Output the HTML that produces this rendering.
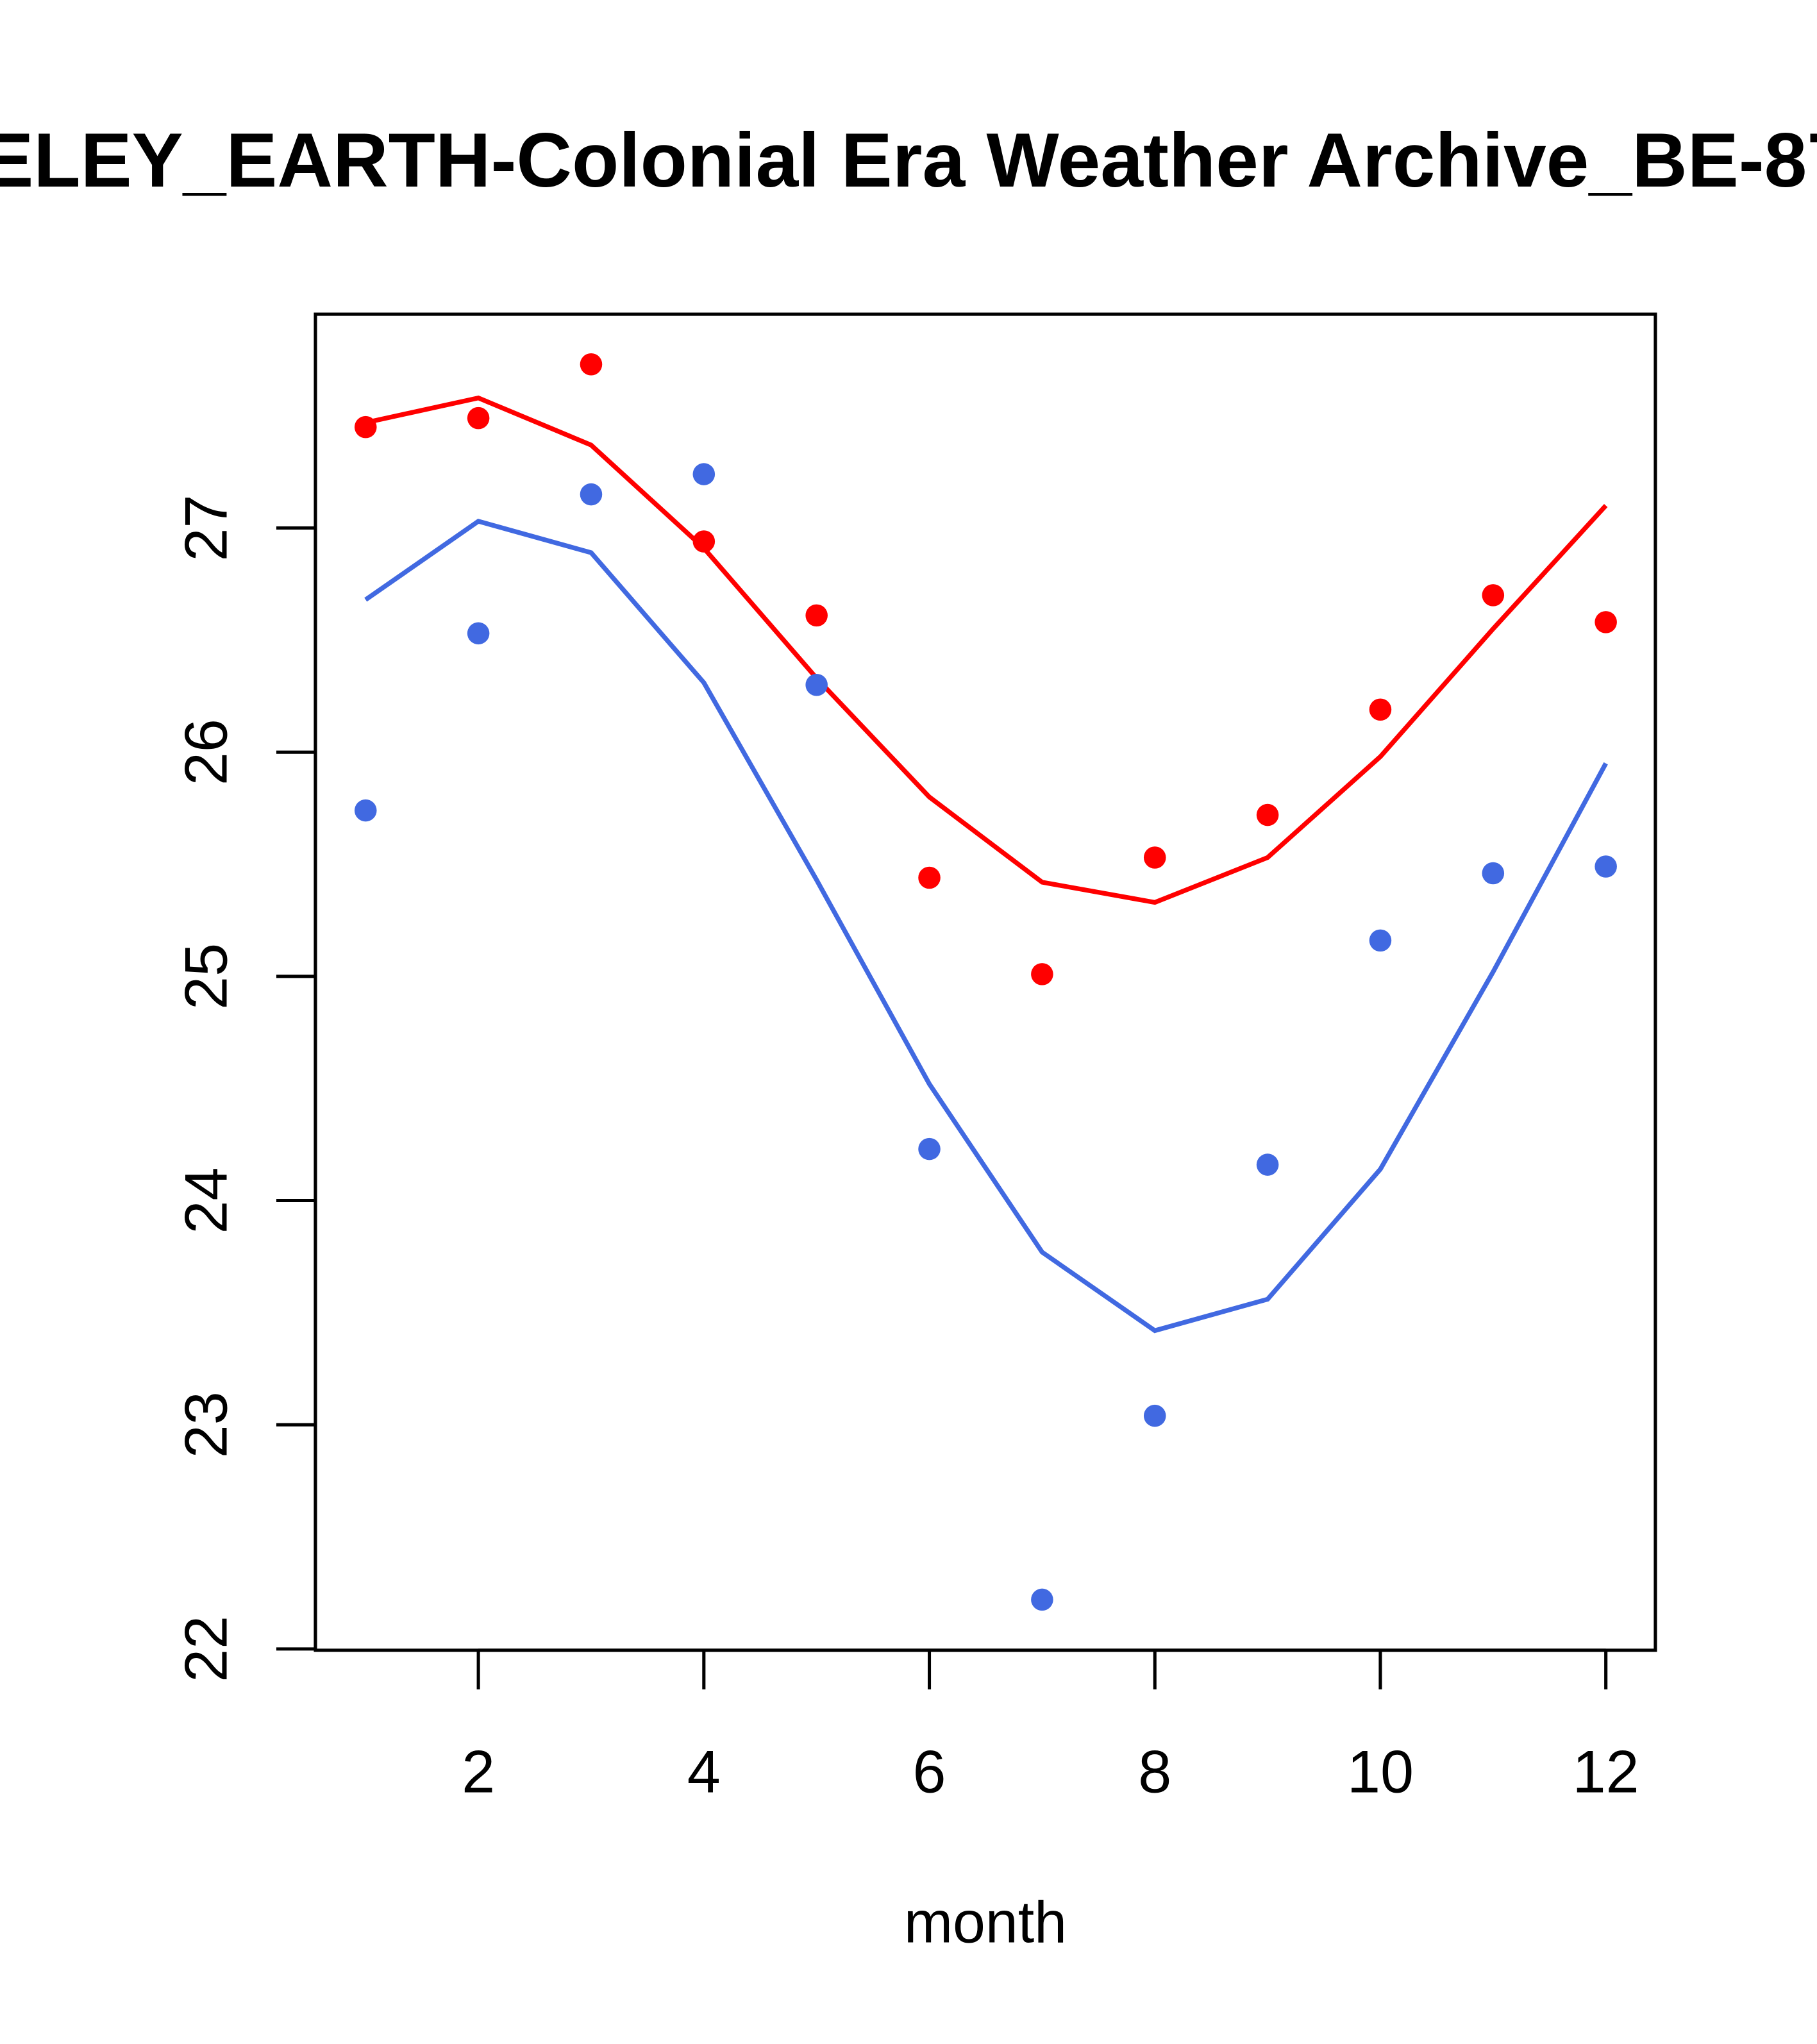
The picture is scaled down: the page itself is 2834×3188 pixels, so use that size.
<!DOCTYPE html>
<html><head><meta charset="utf-8"><style>html,body{margin:0;padding:0;background:#fff;overflow:hidden}svg{display:block}</style></head>
<body>
<svg id="chart" width="2834" height="3188" viewBox="0 0 1394 1568" xmlns="http://www.w3.org/2000/svg" font-family="Liberation Sans, Arial, sans-serif">
<rect width="1394" height="1568" fill="#fff"/>
<text x="652" y="143" text-anchor="middle" font-weight="bold" font-size="59">BERKELEY_EARTH-Colonial Era Weather Archive_BE-8741</text>
<rect x="242" y="241" width="1028" height="1025" fill="none" stroke="#000" stroke-width="2.5"/>
<g id="axes"></g>
<g id="series"></g>
<text x="756" y="1490" text-anchor="middle" font-size="45">month</text>
</svg>
<script>
const months=[1,2,3,4,5,6,7,8,9,10,11,12];
const redPoints=[27.45,27.49,27.73,26.94,26.61,25.44,25.01,25.53,25.72,26.19,26.70,26.58];
const redLine=[27.47,27.58,27.37,26.91,26.33,25.80,25.42,25.33,25.53,25.98,26.55,27.10];
const bluePoints=[25.74,26.53,27.15,27.24,26.30,24.23,22.22,23.04,24.16,25.16,25.46,25.49];
const blueLine=[26.68,27.03,26.89,26.31,25.43,24.52,23.77,23.42,23.56,24.14,25.02,25.95];
const xTicks=[2,4,6,8,10,12];
const yTicks=[22,23,24,25,26,27];
const NS='http://www.w3.org/2000/svg';
const xs=m=>367+(m-2)*86.5;
const ys=v=>1265-(v-22)*172;
function mk(tag,attrs,parent){const e=document.createElementNS(NS,tag);for(const k in attrs)e.setAttribute(k,attrs[k]);parent.appendChild(e);return e;}
const axes=document.getElementById('axes'),series=document.getElementById('series');
mk('line',{x1:xs(2),x2:xs(12),y1:1266,y2:1266,stroke:'#000','stroke-width':2.5},axes);
mk('line',{x1:242,x2:242,y1:ys(22),y2:ys(27),stroke:'#000','stroke-width':2.5},axes);
xTicks.forEach(t=>{
  const l=mk('line',{x1:xs(t),x2:xs(t),y1:1266,y2:1296,stroke:'#000','stroke-width':2.5},axes);
  
  
  const tx=mk('text',{x:xs(t),y:1375,'text-anchor':'middle','font-size':46},axes);
  tx.textContent=t;
  
  
});
yTicks.forEach(t=>{
  const l=mk('line',{x1:212,x2:242,y1:ys(t),y2:ys(t),stroke:'#000','stroke-width':2.5},axes);
  
  
  const tx=mk('text',{x:0,y:0,'text-anchor':'middle','font-size':46,transform:`translate(174,${ys(t)}) rotate(-90)`},axes);
  tx.textContent=t;
  
  
});
function line(vals,color,name){
  const p=mk('polyline',{points:vals.map((v,i)=>xs(months[i])+','+ys(v)).join(' '),fill:'none',stroke:color,'stroke-width':3.6},series);
  
  
}
function pts(vals,color,name){
  vals.forEach((v,i)=>{
    const c=mk('circle',{cx:xs(months[i]),cy:ys(v),r:8.5,fill:color},series);
    
    
  });
}
line(redLine,'#ff0000','red-trend-line');
line(blueLine,'#4169e1','blue-trend-line');
pts(redPoints,'#ff0000','red-point');
pts(bluePoints,'#4169e1','blue-point');
</script>
</body></html>
